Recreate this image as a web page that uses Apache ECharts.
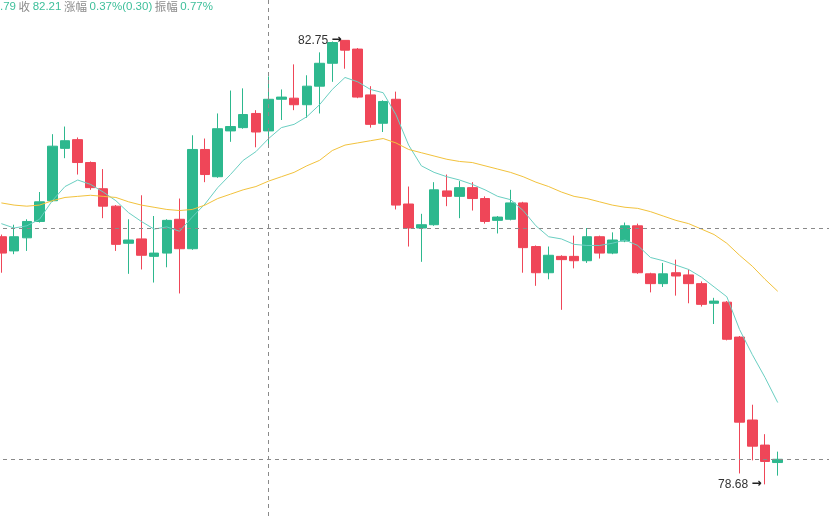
<!DOCTYPE html>
<html>
<head>
<meta charset="utf-8">
<title>K线</title>
<script src="https://cdn.jsdelivr.net/npm/echarts@6/dist/echarts.min.js"></script>
<style>
    html, body { margin: 0; padding: 0; background: #fff; overflow: hidden; }
    body { width: 829px; height: 516px; position: relative; }
    /* 第一根K线被左边裁掉一半，所以画布比窗口宽一点 */
    #kline { width: 840px; height: 516px; position: absolute; left: -5px; top: 0; }
</style>
</head>
<body>
<div id="kline"></div>
<script>
// [开, 收, 低, 高]
var kData = [
    [80.95, 80.80, 80.62, 80.97],
    [80.82, 80.95, 80.79, 81.06],
    [80.94, 81.09, 80.82, 81.11],
    [81.09, 81.27, 81.08, 81.36],
    [81.28, 81.78, 81.27, 81.89],
    [81.76, 81.83, 81.67, 81.96],
    [81.84, 81.63, 81.52, 81.86],
    [81.63, 81.40, 81.38, 81.64],
    [81.39, 81.23, 81.12, 81.57],
    [81.23, 80.88, 80.82, 81.24],
    [80.89, 80.92, 80.61, 81.11],
    [80.93, 80.78, 80.65, 81.33],
    [80.77, 80.80, 80.53, 81.14],
    [80.80, 81.10, 80.67, 81.11],
    [81.11, 80.84, 80.43, 81.30],
    [80.84, 81.75, 80.83, 81.88],
    [81.75, 81.52, 81.45, 81.85],
    [81.50, 81.94, 81.49, 82.08],
    [81.92, 81.96, 81.82, 82.29],
    [81.95, 82.07, 81.94, 82.31],
    [82.08, 81.91, 81.77, 82.11],
    [81.92, 82.21, 81.79, 82.42],
    [82.21, 82.23, 82.02, 82.30],
    [82.22, 82.16, 82.11, 82.53],
    [82.16, 82.33, 82.04, 82.43],
    [82.33, 82.54, 82.08, 82.64],
    [82.54, 82.73, 82.37, 82.74],
    [82.75, 82.66, 82.49, 82.75],
    [82.67, 82.23, 82.22, 82.68],
    [82.25, 81.98, 81.95, 82.33],
    [81.99, 82.19, 81.91, 82.20],
    [82.21, 81.24, 81.20, 82.28],
    [81.25, 81.03, 80.86, 81.41],
    [81.03, 81.06, 80.72, 81.16],
    [81.06, 81.38, 81.05, 81.45],
    [81.37, 81.32, 81.23, 81.52],
    [81.32, 81.40, 81.12, 81.46],
    [81.40, 81.30, 81.19, 81.45],
    [81.30, 81.09, 81.07, 81.32],
    [81.10, 81.13, 80.98, 81.14],
    [81.11, 81.26, 81.10, 81.38],
    [81.26, 80.85, 80.62, 81.27],
    [80.86, 80.62, 80.50, 80.87],
    [80.62, 80.78, 80.56, 80.86],
    [80.77, 80.74, 80.28, 80.78],
    [80.77, 80.73, 80.66, 80.96],
    [80.73, 80.95, 80.71, 81.03],
    [80.95, 80.80, 80.75, 80.96],
    [80.80, 80.92, 80.79, 80.99],
    [80.91, 81.05, 80.90, 81.08],
    [81.05, 80.62, 80.61, 81.07],
    [80.61, 80.52, 80.44, 80.62],
    [80.52, 80.61, 80.49, 80.71],
    [80.62, 80.59, 80.41, 80.74],
    [80.60, 80.52, 80.34, 80.65],
    [80.52, 80.33, 80.31, 80.54],
    [80.34, 80.36, 80.15, 80.39],
    [80.35, 80.01, 80.00, 80.36],
    [80.03, 79.25, 78.78, 80.04],
    [79.27, 79.03, 78.90, 79.41],
    [79.04, 78.89, 78.68, 79.14],
    [78.88, 78.91, 78.76, 78.98]
];

var ma5 = [
    81.07, 81.03, 81.05, 81.11, 81.28, 81.41, 81.47, 81.43, 81.36, 81.28,
    81.17, 81.09, 81.02, 81.04, 81.00, 81.13, 81.25, 81.40, 81.52, 81.65,
    81.73, 81.85, 81.95, 81.98, 82.05, 82.16, 82.30, 82.41, 82.37, 82.30,
    82.27, 82.07, 81.79, 81.60, 81.54, 81.50, 81.47, 81.43, 81.38, 81.32,
    81.29, 81.19, 81.05, 80.95, 80.93, 80.88, 80.87, 80.87, 80.89, 80.92,
    80.87, 80.76, 80.73, 80.69, 80.65, 80.58, 80.49, 80.40, 80.10, 79.87,
    79.66, 79.43
];

var ma20 = [
    81.26, 81.24, 81.23, 81.24, 81.28, 81.31, 81.32, 81.33, 81.32, 81.31,
    81.27, 81.24, 81.22, 81.20, 81.19, 81.20, 81.24, 81.30, 81.34, 81.38,
    81.41, 81.46, 81.50, 81.54, 81.60, 81.65, 81.74, 81.79, 81.81, 81.83,
    81.85, 81.81, 81.75, 81.72, 81.69, 81.66, 81.64, 81.63, 81.60, 81.57,
    81.54, 81.50, 81.45, 81.41, 81.36, 81.32, 81.30, 81.27, 81.24, 81.22,
    81.21, 81.18, 81.14, 81.10, 81.07, 81.02, 80.97, 80.89, 80.78, 80.68,
    80.56, 80.45
];

// 右侧留空的格子
var slotCount = 66;
var categories = [];
for (var i = 0; i < slotCount; i++) {
    categories.push(String(i + 1));
}

var crossIndex = '22';   // 十字线所在K线
var crossPrice = 81.03;
var lastPrice = 78.91;

var infoParts = [
    ['g', '.79'], ['l', '收'], ['g', '82.21'], ['l', '涨幅'],
    ['g', '0.37%(0.30)'], ['l', '振幅'], ['g', '0.77%']
];

var upColor = '#2db88e';
var downColor = '#ef4658';

(function () {
    var kline = echarts.init(document.getElementById('kline'));

    var infoText = infoParts.map(function (p) {
        return '{' + p[0] + '|' + p[1] + '}';
    }).join(' ');

    var option = {
        backgroundColor: '#fff',
        animation: false,
        grid: {
            left: 0,
            right: 0,
            top: 0,
            bottom: 0
        },
        xAxis: {
            type: 'category',
            data: categories,
            boundaryGap: true,
            show: false
        },
        yAxis: {
            type: 'value',
            min: 78.39,
            max: 83.12,
            show: false,
            splitLine: { show: false }
        },
        graphic: [{
            type: 'text',
            left: 5,
            top: 1,
            z: 100,
            style: {
                text: infoText,
                font: '11.5px "Noto Sans CJK SC", Arial, sans-serif',
                rich: {
                    g: { fill: '#3dbf9a', fontSize: 11.5, fontFamily: 'Arial' },
                    l: { fill: '#8c8c8c', fontSize: 11.5, fontFamily: '"Noto Sans CJK SC"' }
                }
            }
        }],
        series: [
            {
                name: 'K',
                type: 'candlestick',
                data: kData,
                barWidth: 10,
                itemStyle: {
                    color: upColor,
                    color0: downColor,
                    borderColor: upColor,
                    borderColor0: downColor,
                    borderWidth: 1
                },
                markLine: {
                    silent: true,
                    symbol: 'none',
                    label: { show: false },
                    lineStyle: {
                        color: '#8a8a8a',
                        width: 1,
                        type: [4, 4]
                    },
                    data: [
                        { yAxis: crossPrice },
                        { yAxis: lastPrice },
                        { xAxis: crossIndex }
                    ]
                },
                markPoint: {
                    z: 20,
                    symbol: 'circle',
                    symbolSize: 1,
                    itemStyle: { color: 'rgba(0,0,0,0)' },
                    label: {
                        show: true,
                        position: 'left',
                        distance: 3,
                        color: '#333',
                        fontSize: 12,
                        fontFamily: 'Arial',
                        rich: {
                            a: { fontSize: 12, fontWeight: 'bold', fontFamily: 'DejaVu Sans', color: '#222' }
                        },
                        formatter: function (p) {
                            return Number(p.value).toFixed(2) + ' {a|→}';
                        }
                    },
                    data: [
                        { type: 'max', valueDim: 'highest' },
                        { type: 'min', valueDim: 'lowest' }
                    ]
                }
            },
            {
                name: 'MA5',
                type: 'line',
                data: ma5,
                symbol: 'none',
                lineStyle: { color: '#6acfc2', width: 1 }
            },
            {
                name: 'MA20',
                type: 'line',
                data: ma20,
                symbol: 'none',
                lineStyle: { color: '#f2c23c', width: 1 }
            }
        ]
    };

    kline.setOption(option);
})();
</script>
</body>
</html>
